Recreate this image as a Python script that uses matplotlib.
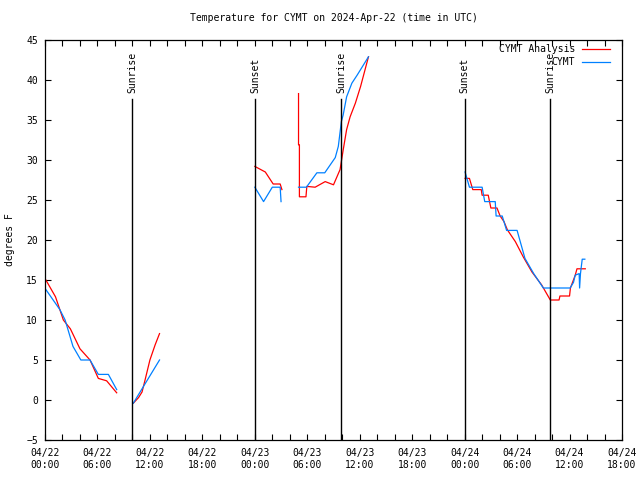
import datetime as dt

import matplotlib
matplotlib.use("Agg")
import matplotlib.dates as mdates
from matplotlib import pyplot as plt

BASE = dt.datetime(2024, 4, 22)

# hours after 04/22 00:00 UTC, temperatures in F
analysis_hours = [
    [0.1, 1.2, 2.1, 2.9, 4.0, 5.15, 6.1, 7.05, 8.2],
    [10.1, 10.7, 11.1, 11.4, 12.0, 12.6, 13.1],
    [24.0, 25.2, 26.1, 26.9, 27.1],
    [29.0, 29.0, 29.1, 29.1, 29.85, 29.95, 30.9, 32.05, 33.0, 33.75,
     34.1, 34.5, 34.9, 35.5, 36.1, 37.0],
    [48.05, 48.55, 48.93, 49.9, 50.0, 50.7, 51.0, 51.7, 52.06, 52.5,
     52.9, 53.8, 54.7, 55.7, 56.8, 57.8, 58.8, 58.9, 60.0, 60.1,
     60.65, 60.85, 61.8],
]
analysis_temps = [
    [15.0, 12.9, 10.0, 8.9, 6.4, 5.0, 2.7, 2.4, 0.9],
    [-0.4, 0.3, 1.0, 2.3, 5.0, 6.9, 8.3],
    [29.2, 28.5, 27.0, 27.0, 26.3],
    [38.3, 31.9, 31.9, 25.4, 25.4, 26.7, 26.6, 27.3, 26.9, 28.8,
     31.2, 33.8, 35.4, 37.1, 39.2, 42.9],
    [27.7, 27.7, 26.3, 26.3, 25.6, 25.6, 24.0, 24.0, 23.0, 22.3,
     21.25, 19.8, 17.9, 16.0, 14.4, 12.5, 12.5, 13.0, 13.0, 14.0,
     15.6, 16.4, 16.4],
]

obs_hours = [
    [0.1, 1.7, 2.3, 3.2, 4.1, 5.15, 6.1, 7.25, 8.2],
    [10.1, 11.1, 12.1, 13.1],
    [24.0, 25.0, 26.0, 26.9, 27.0],
    [29.0, 29.9, 31.1, 32.0, 33.2, 33.55, 33.9, 34.1, 34.5, 35.1,
     35.7, 37.0],
    [48.05, 48.55, 50.0, 50.3, 51.5, 51.6, 52.3, 52.8, 54.0, 54.9,
     55.9, 57.0, 60.07, 60.45, 60.65, 61.1, 61.15, 61.25, 61.35,
     61.45, 61.75],
]
obs_temps = [
    [13.8, 11.3, 10.0, 6.7, 5.0, 5.0, 3.2, 3.2, 1.3],
    [-0.4, 1.4, 3.2, 5.0],
    [26.6, 24.8, 26.6, 26.6, 24.8],
    [26.6, 26.6, 28.4, 28.4, 30.3, 31.7, 34.8, 35.6, 37.9, 39.6,
     40.6, 42.9],
    [28.5, 26.6, 26.6, 24.8, 24.8, 23.0, 23.0, 21.2, 21.2, 17.7,
     15.8, 14.0, 14.0, 14.7, 15.6, 15.8, 14.0, 15.8, 16.7, 17.6,
     17.6],
]

sun_hours = [10.0, 24.05, 33.9, 48.0, 57.8]
sun_labels = ["Sunrise", "Sunset", "Sunrise", "Sunset", "Sunrise"]

RED = "#ff0000"
BLUE = "#0080ff"
FONT = "DejaVu Sans Mono"
FS = 7


def to_time(hours):
    return [BASE + dt.timedelta(hours=h) for h in hours]


plt.rcParams["font.family"] = FONT
plt.rcParams["font.size"] = FS

fig = plt.figure(figsize=(6.4, 4.8), dpi=100)
ax = fig.add_axes([45 / 640, 40 / 480, 577 / 640, 400 / 480])

for i, (h, t) in enumerate(zip(analysis_hours, analysis_temps)):
    ax.plot(to_time(h), t, color=RED, lw=0.9,
            label="CYMT Analysis" if i == 0 else None)
for i, (h, t) in enumerate(zip(obs_hours, obs_temps)):
    ax.plot(to_time(h), t, color=BLUE, lw=0.9,
            label="CYMT" if i == 0 else None)

for h, lab in zip(sun_hours, sun_labels):
    x = BASE + dt.timedelta(hours=h)
    ax.plot([x, x], [-5, 37.6], color="black", lw=1.0)
    ax.text(x, 38.4, lab, rotation=90, ha="center", va="bottom", fontsize=FS)

ax.set_xlim(BASE, BASE + dt.timedelta(hours=66))
ax.set_ylim(-5, 45)
ax.set_yticks(range(-5, 46, 5))

ax.xaxis.set_major_locator(mdates.HourLocator(byhour=range(0, 24, 6)))
ax.xaxis.set_minor_locator(mdates.HourLocator(byhour=range(0, 24, 2)))
ax.xaxis.set_major_formatter(mdates.DateFormatter("%m/%d\n%H:%M"))

ax.tick_params(which="both", direction="in", top=True, right=True,
               length=4, width=0.8, labelsize=FS)
ax.tick_params(axis="x", pad=6)
ax.tick_params(axis="y", pad=5)
for s in ax.spines.values():
    s.set_linewidth(0.9)

ax.set_title("Temperature for CYMT on 2024-Apr-22 (time in UTC)",
             fontsize=FS, pad=14)
ax.set_ylabel("degrees F", fontsize=FS, labelpad=8)

ax.legend(loc="upper right", bbox_to_anchor=(1 - 12 / 577, 1 - 4 / 400),
          frameon=False, markerfirst=False, borderaxespad=0, borderpad=0,
          handlelength=2.9, handletextpad=0.7, labelspacing=0.3,
          fontsize=FS)

fig.savefig("out.png", dpi=100)
